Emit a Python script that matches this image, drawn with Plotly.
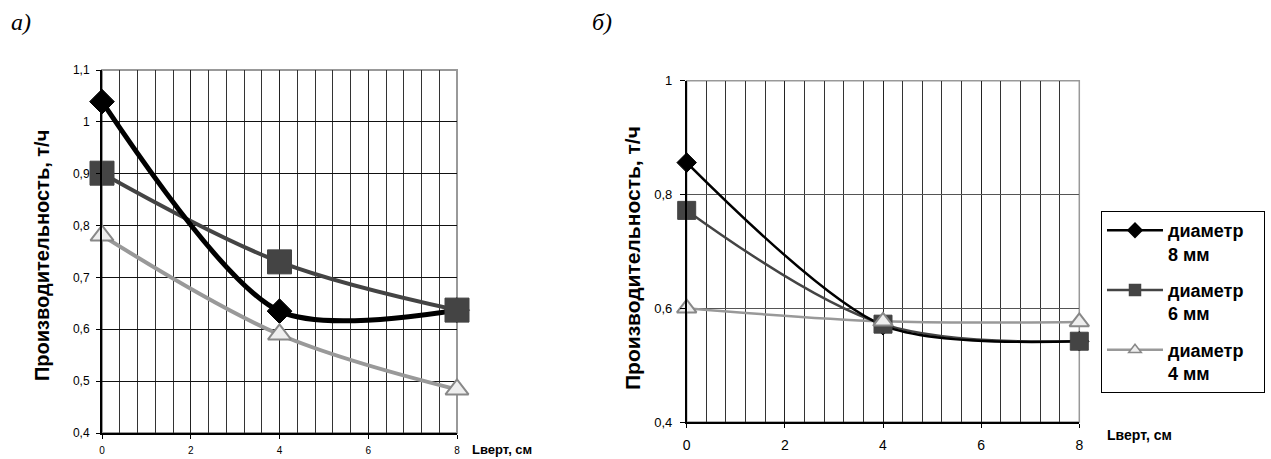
import plotly.graph_objects as go

# ---- data ----
x_vals = [0, 4, 8]

# chart a)
a_d8 = [1.039, 0.635, 0.637]
a_d6 = [0.901, 0.730, 0.637]
a_d4 = [0.781, 0.590, 0.484]

# chart б)
b_d8 = [0.856, 0.570, 0.542]
b_d6 = [0.772, 0.572, 0.542]
b_d4 = [0.600, 0.577, 0.576]

names = ["<b>диаметр&nbsp;&nbsp;&nbsp;<br>8 мм</b>", "<b>диаметр&nbsp;&nbsp;&nbsp;<br>6 мм</b>",
         "<b>диаметр&nbsp;&nbsp;&nbsp;<br>4 мм</b>"]

y_title = "Производительность, т/ч"
x_title = "Lверт, см"

a_yticks = [0.4, 0.5, 0.6, 0.7, 0.8, 0.9, 1.0, 1.1]
b_yticks = [0.4, 0.6, 0.8, 1.0]
x_ticks = [0, 2, 4, 6, 8]

FONT = "Arial, Liberation Sans, sans-serif"

styles = {
    "d8": dict(color="#000000", symbol="diamond", fill="#000000", outline="#000000"),
    "d6": dict(color="#444444", symbol="square", fill="#444444", outline="#444444"),
    "d4": dict(color="#999999", symbol="triangle-up", fill="#eeeeee", outline="#888888"),
}

fig = go.Figure()

def add_chart(xa, ya, series, lw, msizes, smooth, legend):
    # lines first (light series below, black on top)
    for key in ["d4", "d6", "d8"]:
        ys, name, rank = series[key]
        st = styles[key]
        fig.add_trace(go.Scatter(
            x=x_vals, y=ys, xaxis=xa, yaxis=ya, name=name,
            mode="lines+markers" if legend else "lines",
            line=dict(color=st["color"], width=lw[key], shape="spline", smoothing=smooth[key]),
            marker=dict(symbol=st["symbol"], size=msizes[key] if not legend else 11,
                        color=st["fill"], line=dict(color=st["outline"], width=1.5)),
            showlegend=legend, legendrank=rank, legendgroup=key,
            cliponaxis=False, hoverinfo="skip"))
    # markers on top
    for key in ["d8", "d6", "d4"]:
        ys, name, rank = series[key]
        st = styles[key]
        fig.add_trace(go.Scatter(
            x=x_vals, y=ys, xaxis=xa, yaxis=ya, mode="markers",
            marker=dict(symbol=st["symbol"], size=msizes[key], color=st["fill"],
                        line=dict(color=st["outline"], width=2 if key == "d4" else 1)),
            showlegend=False, cliponaxis=False, hoverinfo="skip"))

add_chart("x", "y",
          {"d8": (a_d8, names[0], 1), "d6": (a_d6, names[1], 2), "d4": (a_d4, names[2], 3)},
          {"d8": 5, "d6": 4, "d4": 4},
          {"d8": 19, "d6": 24, "d4": 20},
          {"d8": 0.8, "d6": 1.0, "d4": 1.0}, False)
add_chart("x2", "y2",
          {"d8": (b_d8, names[0], 1), "d6": (b_d6, names[1], 2), "d4": (b_d4, names[2], 3)},
          {"d8": 2.5, "d6": 2.5, "d4": 2.5},
          {"d8": 15, "d6": 18, "d4": 17},
          {"d8": 0.8, "d6": 1.0, "d4": 1.0}, True)

W, H = 1271, 459

def px(x):
    return x / W

def py(y):
    return (H - y) / H

common_x = dict(range=[0, 8], tickvals=x_ticks, ticks="outside", ticklen=4,
                tickcolor="#000", showline=True, linecolor="#000", zeroline=False,
                showgrid=True, gridcolor="#222", gridwidth=1, automargin=False,
                minor=dict(dtick=0.4, tick0=0, showgrid=True, gridcolor="#333", gridwidth=1, ticks=""))

fig.update_layout(
    width=W, height=H, margin=dict(l=0, r=0, t=0, b=0, autoexpand=False),
    paper_bgcolor="white", plot_bgcolor="white",
    separators=", ",
    font=dict(family=FONT, color="#000"),
    xaxis=dict(common_x, domain=[px(102), px(457)], anchor="y", linewidth=2,
               tickfont=dict(size=10), ticklabelstandoff=3),
    yaxis=dict(domain=[py(433), py(70)], anchor="x", range=[0.4, 1.1], tickvals=a_yticks,
               ticks="outside", ticklen=4, tickcolor="#000", showline=True, linecolor="#000",
               linewidth=2, showgrid=True, gridcolor="#111", gridwidth=1, zeroline=False,
               tickfont=dict(size=12), ticklabelstandoff=4, automargin=False),
    xaxis2=dict(common_x, domain=[px(686.7), px(1079.3)], anchor="y2", linewidth=1.5,
                tickfont=dict(size=14), ticklabelstandoff=5),
    yaxis2=dict(domain=[py(422), py(80.7)], anchor="x2", range=[0.4, 1.0], tickvals=b_yticks,
                ticks="outside", ticklen=5, tickcolor="#000", showline=True, linecolor="#000",
                linewidth=1.5, showgrid=True, gridcolor="#555", gridwidth=1, zeroline=False,
                tickfont=dict(size=13), ticklabelstandoff=5, automargin=False),
    legend=dict(x=px(1101), y=py(211), xanchor="left", yanchor="top",
                bordercolor="#000", borderwidth=1, bgcolor="white",
                font=dict(family=FONT, size=18, color="#000"),
                valign="top", itemwidth=56, tracegroupgap=10, traceorder="grouped"),
    showlegend=True,
)

# gray top/right frame of each plot area
for xr, yr, w in [("x domain", "y domain", 2), ("x2 domain", "y2 domain", 1.5)]:
    fig.add_shape(type="rect", xref=xr, yref=yr, x0=0, x1=1, y0=0, y1=1,
                  line=dict(color="#999999", width=w), layer="below")

ann = [
    dict(text="<i>а)</i>", x=px(21), y=py(22), font=dict(family="Liberation Serif, Times New Roman, serif", size=24)),
    dict(text="<i>б)</i>", x=px(602), y=py(22), font=dict(family="Liberation Serif, Times New Roman, serif", size=24)),
    dict(text="<b>" + y_title + "</b>", x=px(42), y=py(256), textangle=-90, font=dict(size=20)),
    dict(text="<b>" + y_title + "</b>", x=px(632), y=py(258), textangle=-90, font=dict(size=21)),
]
for a in ann:
    fig.add_annotation(xref="paper", yref="paper", showarrow=False, xanchor="center", yanchor="middle", **a)

fig.add_annotation(xref="paper", yref="paper", showarrow=False, xanchor="left", yanchor="middle",
                   x=px(470), y=py(449), text="<b>" + x_title + "</b>", font=dict(size=13))
fig.add_annotation(xref="paper", yref="paper", showarrow=False, xanchor="left", yanchor="middle",
                   x=px(1105), y=py(435), text="<b>" + x_title + "</b>", font=dict(size=14))

fig.write_html("out.html", config={"displayModeBar": False},
               post_script="document.body.style.margin='0';document.body.style.overflow='hidden';")
